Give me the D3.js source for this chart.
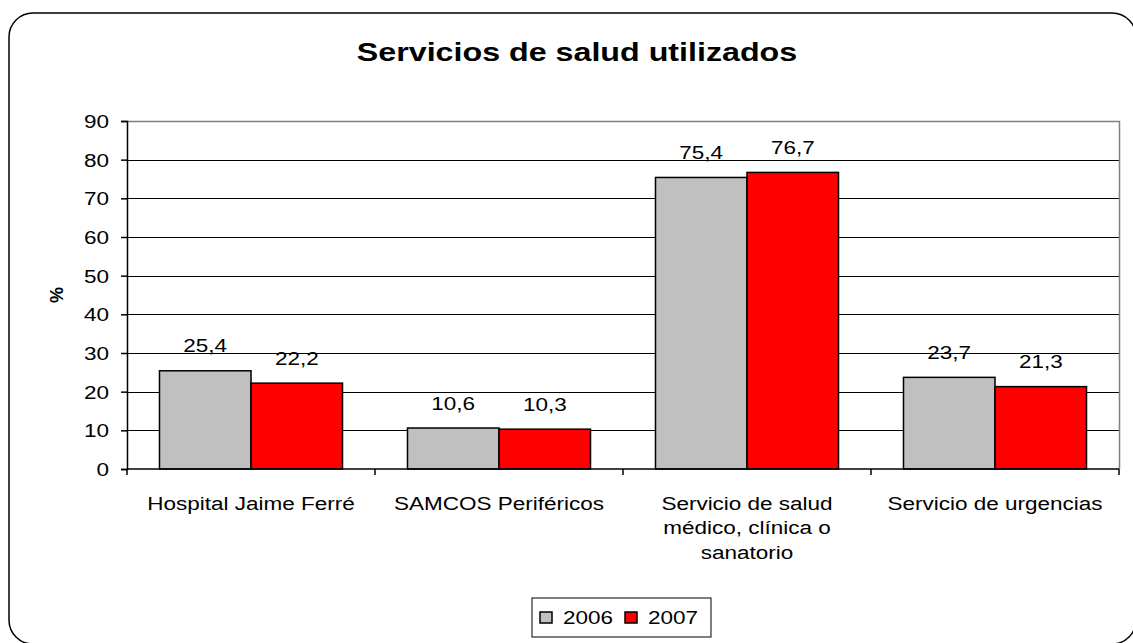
<!DOCTYPE html>
<html>
<head>
<meta charset="utf-8">
<script src="https://cdn.jsdelivr.net/npm/d3@7"></script>
<style>
	body { margin: 0; background: #fff; }
	svg { display: block; font-family: "Liberation Sans", Arial, sans-serif; }
</style>
</head>
<body>
<svg id="chart"></svg>
<script>
const categories = [
	['Hospital Jaime Ferré'],
	['SAMCOS Periféricos'],
	['Servicio de salud', 'médico, clínica o', 'sanatorio'],
	['Servicio de urgencias']
];
const years = ['2006', '2007'];
const values2006 = [25.4, 10.6, 75.4, 23.7];
const values2007 = [22.2, 10.3, 76.7, 21.3];
const yTicks = [0, 10, 20, 30, 40, 50, 60, 70, 80, 90];
const colors = ['#c0c0c0', '#ff0000'];

const W = 1133, H = 643;
const margin = {top: 121, right: 14, bottom: 174, left: 127};
const STRETCH = 1.25;  // the source renders text wide

const svg = d3.select('#chart').attr('width', W).attr('height', H);

// put a text at (x, y) and widen it horizontally
const place = (sel, x, y, sx = STRETCH) => sel
	.attr('transform', function(d, i) {
		const px = typeof x === 'function' ? x(d, i) : x;
		const py = typeof y === 'function' ? y(d, i) : y;
		return `translate(${px},${py}) scale(${sx},1)`;
	});

// outer frame with rounded corners
svg.append('rect')
	.attr('x', 9).attr('y', 13)
	.attr('width', 1127).attr('height', 631)
	.attr('rx', 24).attr('ry', 24)
	.attr('fill', '#fff')
	.attr('stroke', '#000')
	.attr('stroke-width', 1.5);

const x0 = d3.scaleBand()
	.domain(d3.range(categories.length))
	.range([margin.left, W - margin.right]);

const x1 = d3.scaleBand()
	.domain(years)
	.range([0, x0.bandwidth()])
	.paddingInner(0)
	.paddingOuter(0.355);

const y = d3.scaleLinear()
	.domain([0, 90])
	.range([H - margin.bottom, margin.top]);

// gridlines
svg.append('g')
	.selectAll('line')
	.data(yTicks.slice(1, -1))
	.enter().append('line')
	.attr('x1', margin.left).attr('x2', W - margin.right)
	.attr('y1', d => Math.round(y(d)) + 0.5).attr('y2', d => Math.round(y(d)) + 0.5)
	.attr('stroke', '#000')
	.attr('stroke-width', 1);

// plot area top/right border
svg.append('path')
	.attr('d', `M${margin.left},${y(90) + 0.5}H${W - margin.right + 0.5}V${y(0)}`)
	.attr('fill', 'none')
	.attr('stroke', '#808080')
	.attr('stroke-width', 1.5);

const series = [values2006, values2007];

const groups = svg.append('g')
	.selectAll('g')
	.data(d3.range(categories.length))
	.enter().append('g')
	.attr('transform', i => `translate(${x0(i)},0)`);

groups.selectAll('rect')
	.data(i => years.map((yr, j) => ({yr, j, v: series[j][i]})))
	.enter().append('rect')
	.attr('x', d => x1(d.yr))
	.attr('y', d => y(d.v))
	.attr('width', x1.bandwidth())
	.attr('height', d => y(0) - y(d.v))
	.attr('fill', d => colors[d.j])
	.attr('stroke', '#000')
	.attr('stroke-width', 1.5);

groups.selectAll('text.val')
	.data(i => years.map((yr, j) => ({yr, j, v: series[j][i]})))
	.enter().append('text')
	.attr('class', 'val')
	.attr('text-anchor', 'middle')
	.attr('font-size', 18)
	.call(place, d => x1(d.yr) + x1.bandwidth() / 2, d => y(d.v) - 18.5)
	.text(d => d3.format('.1f')(d.v).replace('.', ','));

// y axis
const yAxis = svg.append('g')
	.attr('transform', `translate(${margin.left},0)`)
	.call(d3.axisLeft(y).tickValues(yTicks).tickSize(6).tickFormat(d3.format('d')));
yAxis.selectAll('path, line').attr('stroke', '#000').attr('stroke-width', 1.5);
yAxis.selectAll('text')
	.attr('x', 0).attr('dy', null)
	.attr('font-size', 18).attr('fill', '#000')
	.style('font-family', '"Liberation Sans", Arial, sans-serif')
	.call(place, -18, 6.5);

// x axis
const xAxisG = svg.append('g');
xAxisG.append('line')
	.attr('x1', margin.left).attr('x2', W - margin.right)
	.attr('y1', y(0)).attr('y2', y(0))
	.attr('stroke', '#000').attr('stroke-width', 1.5);
xAxisG.selectAll('line.tick')
	.data(d3.range(categories.length + 1))
	.enter().append('line')
	.attr('class', 'tick')
	.attr('x1', i => margin.left + i * x0.bandwidth())
	.attr('x2', i => margin.left + i * x0.bandwidth())
	.attr('y1', y(0)).attr('y2', y(0) + 6)
	.attr('stroke', '#000').attr('stroke-width', 1.5);

const labels = xAxisG.selectAll('text')
	.data(categories)
	.enter().append('text')
	.attr('text-anchor', 'middle')
	.attr('font-size', 18)
	.call(place, (d, i) => x0(i) + x0.bandwidth() / 2, 509.5);
labels.selectAll('tspan')
	.data(d => d)
	.enter().append('tspan')
	.attr('x', 0)
	.attr('dy', (d, i) => i === 0 ? 0 : 25)
	.text(d => d);

// title
svg.append('text')
	.attr('text-anchor', 'middle')
	.attr('font-size', 26)
	.attr('font-weight', 'bold')
	.call(place, 577, 61, 1.24)
	.text('Servicios de salud utilizados');

// y label
svg.append('text')
	.attr('transform', 'translate(63,295) rotate(-90)')
	.attr('text-anchor', 'middle')
	.attr('font-size', 18)
	.attr('font-weight', 'bold')
	.text('%');

// legend
const legend = svg.append('g').attr('transform', 'translate(532,598)');
legend.append('rect')
	.attr('width', 179).attr('height', 39)
	.attr('fill', '#fff').attr('stroke', '#000').attr('stroke-width', 1);
const items = legend.selectAll('g')
	.data(years)
	.enter().append('g')
	.attr('transform', (d, i) => `translate(${8 + i * 85},0)`);
items.append('rect')
	.attr('x', 0).attr('y', 14)
	.attr('width', 12).attr('height', 11)
	.attr('fill', (d, i) => colors[i])
	.attr('stroke', '#000').attr('stroke-width', 1.5);
items.append('text')
	.attr('font-size', 18)
	.call(place, 23, 26)
	.text(d => d);
</script>
</body>
</html>
